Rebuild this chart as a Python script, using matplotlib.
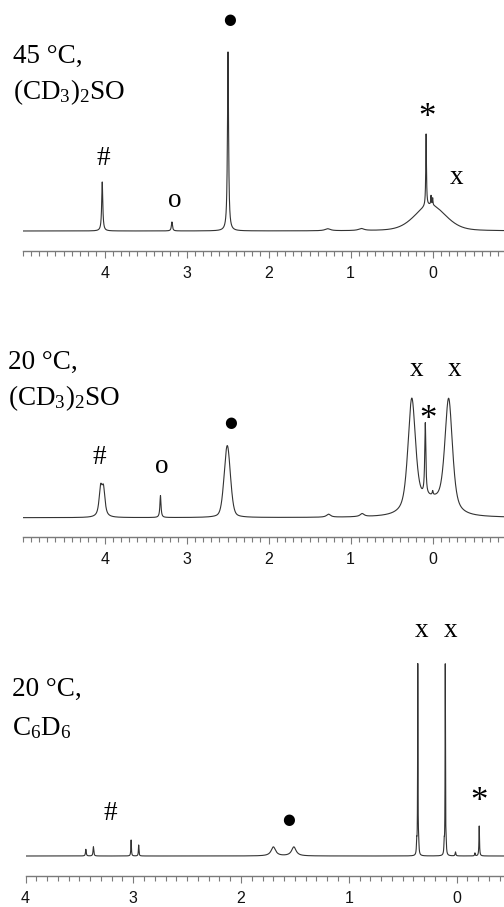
import numpy as np
import matplotlib
matplotlib.use("Agg")
import matplotlib.pyplot as plt
from matplotlib.ticker import MultipleLocator, FixedLocator

W, H, DPI = 504, 907, 100

# ---------------- data (peak lists) ----------------
# Panel 1: 45 °C, (CD3)2SO   -- ppm, height (relative), half-width (ppm), Lorentz fraction
p1_pos    = [4.03, 3.18, 2.496, 0.08, 0.02, 0.00, 0.03, 1.28, 0.87]
p1_height = [49,   9,    179,   72,   9,    7,    26,   2,    2]
p1_hw     = [0.008, 0.008, 0.008, 0.005, 0.004, 0.004, 0.22, 0.04, 0.04]
p1_lfrac  = [1, 1, 1, 1, 1, 1, 0.3, 1, 1]

# Panel 2: 20 °C, (CD3)2SO
p2_pos    = [4.05, 4.015, 3.32, 2.505, 0.255, 0.09, -0.195, 0.03, 0.00, 1.27, 0.86]
p2_height = [27,   26,    22,   72,    112,   72,   112,    15,   4,    3,    3]
p2_hw     = [0.022, 0.022, 0.008, 0.045, 0.055, 0.008, 0.055, 0.2, 0.006, 0.03, 0.03]
p2_lfrac  = [0.8, 0.8, 1, 0.3, 0.6, 1, 0.6, 0.5, 1, 1, 1]

# Panel 3: 20 °C, C6D6
p3_pos    = [3.44, 3.37, 3.02, 2.95, 1.70, 1.51, 0.36, 0.37, 0.352, 0.105, 0.115, 0.097, 0.01, -0.17, -0.21]
p3_height = [6.7,  9.3,  16,   11,   9,    9,    190,  12,   12,    190,   12,    10,    4,    3,     30]
p3_hw     = [0.004, 0.004, 0.003, 0.003, 0.025, 0.025, 0.002, 0.003, 0.003, 0.002, 0.003, 0.003, 0.004, 0.003, 0.003]
p3_lfrac  = [1] * 15

tick_major = [0, 1, 2, 3, 4]

# ---------------- helpers ----------------
def spectrum(x, pos, height, hw, lfrac):
    y = np.zeros_like(x)
    for p, h, w, f in zip(pos, height, hw, lfrac):
        d = (x - p) / w
        lor = 1.0 / (1.0 + d * d)
        gau = np.exp(-np.log(2) * d * d)
        y += h * (f * lor + (1 - f) * gau)
    return y

plt.rcParams["mathtext.fontset"] = "custom"
plt.rcParams["mathtext.rm"] = "Liberation Serif"

fig = plt.figure(figsize=(W / DPI, H / DPI), dpi=DPI)
fig.patch.set_facecolor("white")

def add_axes(left, top, right, bottom):
    return fig.add_axes([left / W, 1 - bottom / H, (right - left) / W, (bottom - top) / H])

def ftext(xpx, ypx, s, **kw):
    fig.text(xpx / W, 1 - ypx / H, s, **kw)

serif = dict(family=["Liberation Serif", "DejaVu Serif"], fontsize=19.5, color="black")
AXCOL = "#7a7a7a"
LINECOL = "#333333"

panels = [
    dict(rect=(22.7, 0, 504, 250.7), xlim=(5.0, -0.87), ylim=(-19.7, 231),
         peaks=(p1_pos, p1_height, p1_hw, p1_lfrac)),
    dict(rect=(22.7, 280, 504, 536.7), xlim=(5.0, -0.87), ylim=(-19.0, 237.7),
         peaks=(p2_pos, p2_height, p2_hw, p2_lfrac)),
    dict(rect=(25.5, 580, 504, 876), xlim=(4.0, -0.44), ylim=(-20.0, 276),
         peaks=(p3_pos, p3_height, p3_hw, p3_lfrac)),
]

axes = []
for P in panels:
    ax = add_axes(*P["rect"])
    x = np.linspace(P["xlim"][0], P["xlim"][1], 40000)
    y = spectrum(x, *P["peaks"])
    ax.plot(x, y, color=LINECOL, lw=0.8)
    ax.set_xlim(*P["xlim"])
    ax.set_ylim(*P["ylim"])
    for s in ("left", "right", "top"):
        ax.spines[s].set_visible(False)
    ax.spines["bottom"].set_color(AXCOL)
    ax.spines["bottom"].set_linewidth(1.0)
    ax.set_yticks([])
    ax.xaxis.set_major_locator(FixedLocator(tick_major))
    ax.xaxis.set_minor_locator(MultipleLocator(0.1))
    ax.tick_params(axis="x", which="major", length=5.2, width=0.8, color=AXCOL,
                   pad=5.5, labelsize=11.5, labelcolor="#111111")
    ax.tick_params(axis="x", which="minor", length=3.6, width=0.8, color=AXCOL)
    for lab in ax.get_xticklabels():
        lab.set_family(["Liberation Sans", "DejaVu Sans"])
    ax.set_facecolor("none")
    axes.append(ax)

ax1, ax2, ax3 = axes

# ---------------- labels ----------------
ftext(13, 62.5, "45 °C,", ha="left", va="baseline", **serif)
ftext(13, 99, r"(CD$\mathregular{_3}$)$\mathregular{_2}$SO", ha="left", va="baseline", **serif)
ftext(8, 369, "20 °C,", ha="left", va="baseline", **serif)
ftext(8, 405, r"(CD$\mathregular{_3}$)$\mathregular{_2}$SO", ha="left", va="baseline", **serif)
ftext(12, 696, "20 °C,", ha="left", va="baseline", **serif)
ftext(12, 735, r"C$\mathregular{_6}$D$\mathregular{_6}$", ha="left", va="baseline", **serif)

dot = dict(family=["DejaVu Sans"], fontsize=10.5, color="black", ha="center", va="center")
mk = dict(ha="center", va="baseline", **serif)
star = dict(ha="center", va="baseline", family=["Liberation Serif", "DejaVu Serif"],
            fontsize=25, color="black")

# panel 1 markers
ax1.text(2.48, 211, "●", **dot)
ax1.text(4.02, 66, "#", **mk)
ax1.text(3.14, 24, "o", **mk)
ax1.text(0.07, 104, "*", **star)
ax1.text(-0.29, 47, "x", **mk)

# panel 2 markers
ax2.text(2.47, 95, "●", **dot)
ax2.text(4.07, 54, "#", **mk)
ax2.text(3.31, 45, "o", **mk)
ax2.text(0.20, 142, "x", **mk)
ax2.text(0.06, 89, "*", **star)
ax2.text(-0.27, 142, "x", **mk)

# panel 3 markers
ax3.text(1.56, 36, "●", **dot)
ax3.text(3.21, 36, "#", **mk)
ax3.text(0.325, 219, "x", **mk)
ax3.text(0.06, 219, "x", **mk)
ax3.text(-0.21, 45, "*", **star)

fig.savefig("out.png", dpi=DPI, facecolor="white")
